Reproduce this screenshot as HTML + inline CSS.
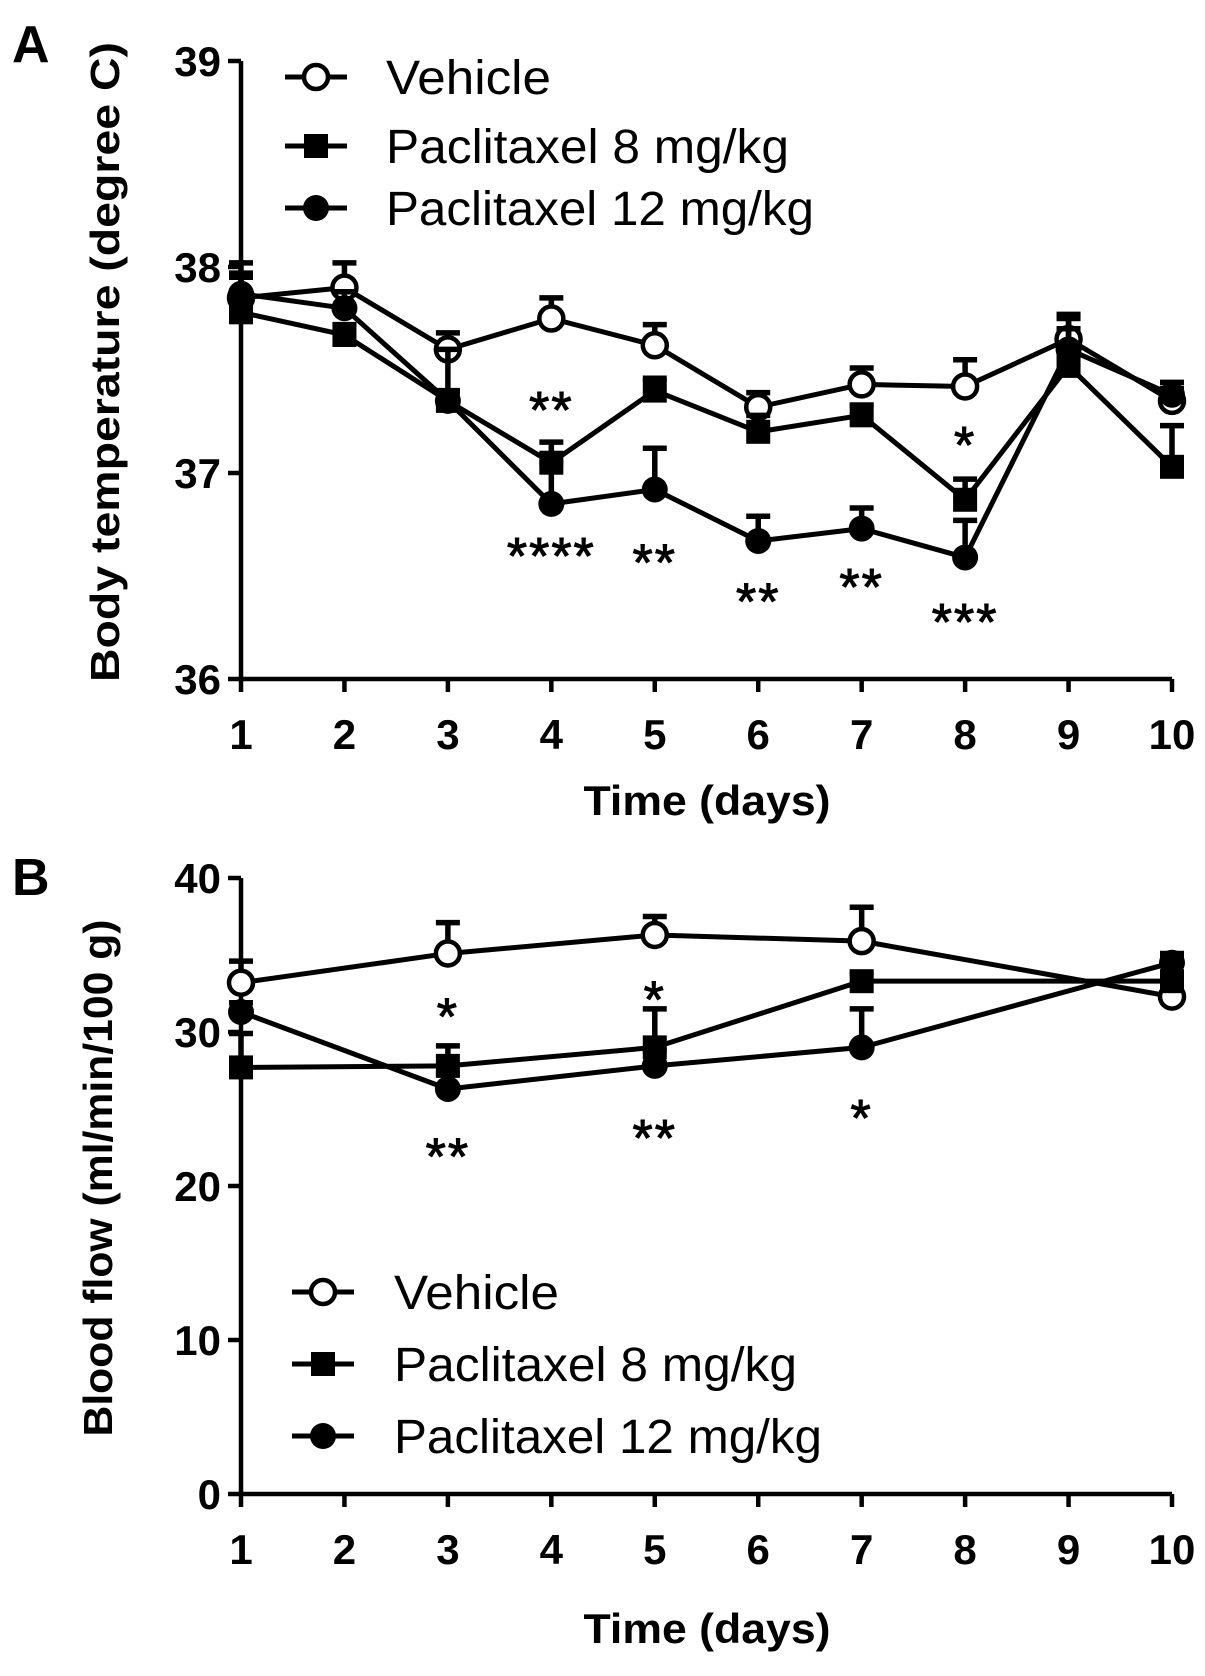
<!DOCTYPE html>
<html><head><meta charset="utf-8">
<style>
html,body{margin:0;padding:0;background:#fff;}
svg{display:block;}
text{font-family:"Liberation Sans",Arial,sans-serif;fill:#000;}
</style></head>
<body>
<svg id="chart" width="1205" height="1676" viewBox="0 0 1205 1676" xmlns="http://www.w3.org/2000/svg"></svg>
<script>
// ---- Panel A data ----
const daysA = [1,2,3,4,5,6,7,8,9,10];
const vehA = [37.85,37.9,37.6,37.75,37.62,37.32,37.43,37.42,37.65,37.35];
const vehAErr = [0.12,0.12,0.08,0.1,0.1,0.07,0.08,0.13,0.1,0.06];
const p8A = [37.78,37.67,37.35,37.05,37.4,37.2,37.28,36.87,37.52,37.03];
const p8AErr = [0.24,0.05,0.05,0.1,0.06,0.08,0.05,0.1,0.25,0.2];
const p12A = [37.87,37.8,37.35,36.85,36.92,36.67,36.73,36.59,37.6,37.38];
const p12AErr = [0.08,0.08,0.25,0.2,0.2,0.12,0.1,0.18,0.1,0.06];
const ticksA = [36,37,38,39];
const starsA = [[4,37.35,"**"],[4,36.64,"****"],[5,36.61,"**"],[6,36.42,"**"],[7,36.49,"**"],[8,36.32,"***"],[8,37.18,"*"]];
// ---- Panel B data ----
const daysB = [1,3,5,7,10];
const vehB = [33.2,35.1,36.3,35.9,32.3];
const vehBErr = [1.4,2.0,1.2,2.2,0.5];
const p8B = [27.7,27.8,29.0,33.3,33.3];
const p8BErr = [2.2,1.3,2.5,0.5,1.8];
const p12B = [31.3,26.3,27.8,29.0,34.5];
const p12BErr = [0.6,1.0,1.0,2.5,0.5];
const ticksB = [0,10,20,30,40];
const starsB = [[3,31.6,"*"],[3,22.5,"**"],[5,32.7,"*"],[5,23.7,"**"],[7,25.0,"*"]];
const xTicks = [1,2,3,4,5,6,7,8,9,10];

const NS="http://www.w3.org/2000/svg";
const svg=document.getElementById('chart');
function mk(tag,attrs,parent){const e=document.createElementNS(NS,tag);for(const k in attrs)e.setAttribute(k,attrs[k]);(parent||svg).appendChild(e);return e;}

const x0=241,x1=1172;
function xScale(d){return x0+(d-1)*(x1-x0)/9;}
function yA(v){return 679-(v-36)*206;}
function yB(v){return 1494-v*15.4;}

function marker(g,type,cx,cy){
  let m;
  if(type==='open'){m=mk('circle',{cx:cx,cy:cy,r:12,fill:'#fff',stroke:'#000','stroke-width':4.5},g);}
  else if(type==='square'){m=mk('rect',{x:cx-12,y:cy-12,width:24,height:24,fill:'#000'},g);}
  else{m=mk('circle',{cx:cx,cy:cy,r:13,fill:'#000'},g);}
  
  
}

function series(name,days,vals,errs,ys,type){
  const g=mk('g',{});
  
  
  days.forEach((d,i)=>{
    const cx=xScale(d),yt=ys(vals[i]+errs[i]),yv=ys(vals[i]);
    const e=mk('path',{d:`M${cx},${yv}V${yt}M${cx-12},${yt}H${cx+12}`,stroke:'#000','stroke-width':5.5,fill:'none'},g);
    
    
  });
  const pts=days.map((d,i)=>xScale(d)+','+ys(vals[i])).join(' ');
  const l=mk('polyline',{points:pts,fill:'none',stroke:'#000','stroke-width':5,'stroke-linejoin':'round'},g);
  
  
  days.forEach((d,i)=>marker(g,type,xScale(d),ys(vals[i])));
}

function axes(prefix,ys,ticks,yBottom,yTop,xTitleY,yTitle,yTitleX,yTitleY,yTitleLen){
  const ax=mk('path',{d:`M${x0},${yTop}V${yBottom}H${x1}`,stroke:'#000','stroke-width':4.5,fill:'none'});
  
  
  ticks.forEach(t=>{
    const y=ys(t);
    mk('line',{x1:x0-13,x2:x0,y1:y,y2:y,stroke:'#000','stroke-width':4.5});
    const tl=mk('text',{x:x0-20,y:y+15,'text-anchor':'end','font-size':42,'font-weight':'bold'});
    tl.textContent=t;
    
    
  });
  xTicks.forEach(d=>{
    const x=xScale(d);
    mk('line',{x1:x,x2:x,y1:yBottom,y2:yBottom+13,stroke:'#000','stroke-width':4.5});
    const tl=mk('text',{x:x,y:yBottom+70,'text-anchor':'middle','font-size':42,'font-weight':'bold'});
    tl.textContent=d;
    
    
  });
  const xt=mk('text',{x:707,y:xTitleY,'text-anchor':'middle','font-size':42,'font-weight':'bold',textLength:247,lengthAdjust:'spacingAndGlyphs'});
  xt.textContent='Time (days)';
  
  
  const yt=mk('text',{x:0,y:0,'text-anchor':'middle','font-size':41,'font-weight':'bold',textLength:yTitleLen,lengthAdjust:'spacingAndGlyphs',transform:`translate(${yTitleX},${yTitleY}) rotate(-90)`});
  yt.textContent=yTitle;
  
  
}

function legend(prefix,x,textX,rows){
  const labels=['Vehicle','Paclitaxel 8 mg/kg','Paclitaxel 12 mg/kg'];
  const lens=[165,403,428];
  const types=['open','square','filled'];
  rows.forEach((y,i)=>{
    const g=mk('g',{});
    
    
    mk('line',{x1:x,x2:x+62,y1:y,y2:y,stroke:'#000','stroke-width':5},g);
    marker(g,types[i],x+31,y);
    const t=mk('text',{x:textX,y:y+17,'font-size':48,textLength:lens[i],lengthAdjust:'spacingAndGlyphs'},g);
    t.textContent=labels[i];
  });
}

function stars(list,ys){
  list.forEach(s=>{
    const t=mk('text',{x:xScale(s[0]),y:ys(s[1])+27,'text-anchor':'middle','font-size':52,'letter-spacing':'2','stroke':'#000','stroke-width':1});
    t.textContent=s[2];
    
    
  });
}

// Panel A
const la=mk('text',{x:12,y:62,'font-size':52,'font-weight':'bold'});la.textContent='A';

axes('panel-a',yA,ticksA,yA(36),yA(39),815,'Body temperature (degree C)',119,362,640);
series('vehicle-series-a',daysA,vehA,vehAErr,yA,'open');
series('p8-series-a',daysA,p8A,p8AErr,yA,'square');
series('p12-series-a',daysA,p12A,p12AErr,yA,'filled');
stars(starsA,yA);
legend('panel-a',285,386,[77,146,208]);

// Panel B
const lb=mk('text',{x:12,y:895,'font-size':52,'font-weight':'bold'});lb.textContent='B';

axes('panel-b',yB,ticksB,yB(0),yB(40),1643,'Blood flow (ml/min/100 g)',112,1178,517);
series('vehicle-series-b',daysB,vehB,vehBErr,yB,'open');
series('p8-series-b',daysB,p8B,p8BErr,yB,'square');
series('p12-series-b',daysB,p12B,p12BErr,yB,'filled');
stars(starsB,yB);
legend('panel-b',292,394,[1292,1364,1436]);
</script>
</body></html>
